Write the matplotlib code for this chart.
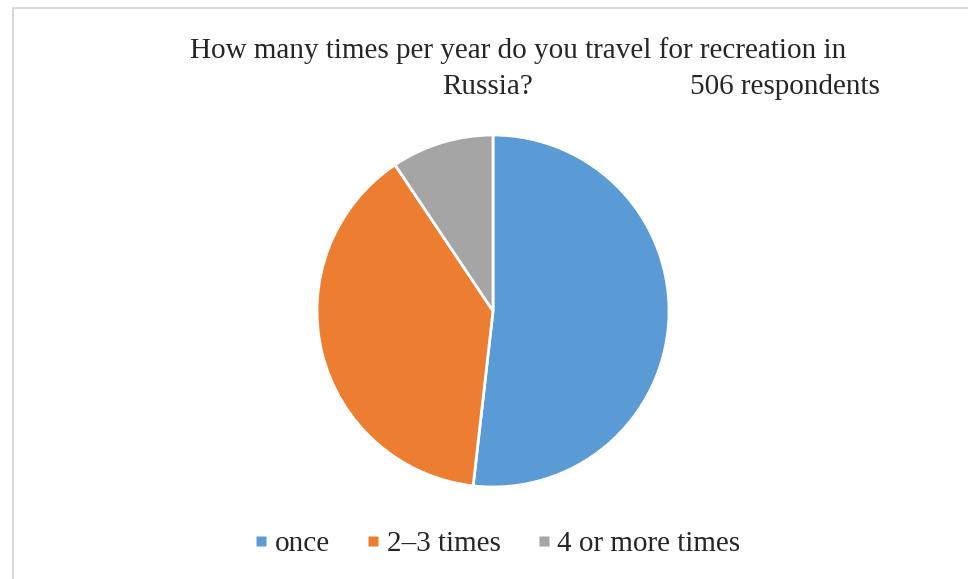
import matplotlib.pyplot as plt
from matplotlib.lines import Line2D

# data
labels = ['once', '2\u20133 times', '4 or more times']
shares = [51.8, 38.8, 9.4]
colors = ['#5B9BD5', '#ED7D31', '#A5A5A5']

W, H = 968, 579
fig = plt.figure(figsize=(W / 100, H / 100), dpi=100)
plt.rcParams['font.family'] = ['Liberation Serif', 'DejaVu Serif']

# chart area border (only left and top are visible in the crop)
fig.add_artist(Line2D([13 / W, 13 / W, 1.0], [0.0, 1 - 8 / H, 1 - 8 / H],
                      transform=fig.transFigure, color='#d9d9d9', lw=1.5))

# pie
cx, cy, r = 493, 311, 176
ax = fig.add_axes([(cx - r) / W, (H - cy - r) / H, 2 * r / W, 2 * r / H])
ax.pie(shares, colors=colors, startangle=90, counterclock=False,
       wedgeprops=dict(edgecolor='white', linewidth=2))
ax.set_xlim(-1.0, 1.0)
ax.set_ylim(-1.0, 1.0)
ax.set_aspect('equal')
ax.axis('off')

# title
fig.text(518 / W, 1 - 51 / H, 'How many times per year do you travel for recreation in',
         ha='center', va='center', fontsize=21, color='#262626')
fig.text(488 / W, 1 - 87 / H, 'Russia?', ha='center', va='center',
         fontsize=21, color='#262626')
fig.text(785 / W, 1 - 87 / H, '506 respondents', ha='center', va='center',
         fontsize=21, color='#262626')

# legend with small square markers
handles = [Line2D([], [], linestyle='none', marker='s', markersize=6.5,
                  markerfacecolor=c, markeredgecolor='none') for c in colors]
fig.legend(handles, labels, loc='center', bbox_to_anchor=(498 / W, 1 - 544 / H),
           ncol=3, frameon=False, fontsize=21, handlelength=0.4,
           handletextpad=0.25, columnspacing=1.3, labelcolor='#262626')

fig.savefig('out.png', dpi=100)
